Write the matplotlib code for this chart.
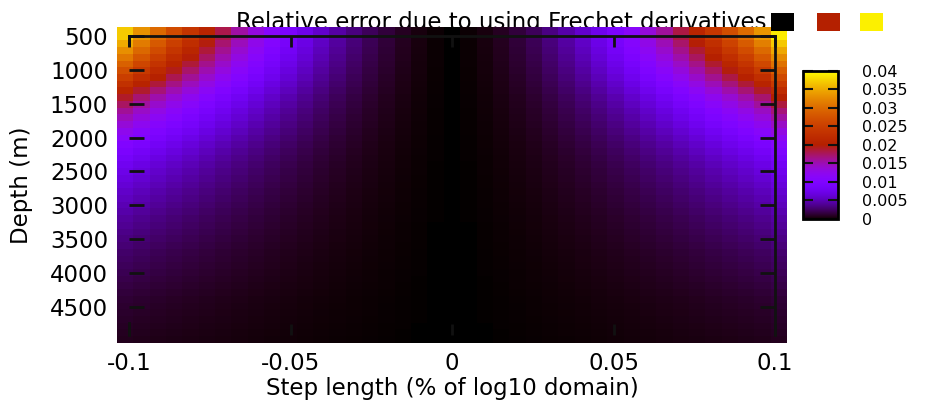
import numpy as np
import matplotlib
matplotlib.use("Agg")
import matplotlib.pyplot as plt
from matplotlib.patches import Rectangle
from matplotlib.ticker import FormatStrFormatter

# grid of the surface: step length (fraction of log10 domain) and depth (m)
step_length = np.linspace(-0.1, 0.1, 41)
depth = np.arange(400, 5001, 100)

# relative error read along the shallowest row, left to right
top_row_error = [0.037, 0.0332, 0.0298, 0.0266, 0.0237, 0.0208, 0.0181, 0.0156, 0.0133, 0.0112,
                 0.0093, 0.0075, 0.0059, 0.0045, 0.0033, 0.0023, 0.0015, 0.00083, 0.00037, 0.00009,
                 0.0,
                 0.00009, 0.00037, 0.00083, 0.0015, 0.0023, 0.0034, 0.0046, 0.006, 0.0076, 0.0094,
                 0.0114, 0.0135, 0.0158, 0.0183, 0.021, 0.024, 0.027, 0.030, 0.0335, 0.039]

# relative error at the largest step, shallow to deep
edge_error = [0.037, 0.037, 0.035, 0.033, 0.031, 0.029, 0.027, 0.025, 0.023, 0.021,
              0.019, 0.0175, 0.016, 0.0148, 0.0136, 0.0124, 0.0113, 0.0103, 0.0094, 0.0086,
              0.0079, 0.0073, 0.0068, 0.0063, 0.0058, 0.0054, 0.0050, 0.0046, 0.0042, 0.0039,
              0.0036, 0.0033, 0.0030, 0.0027, 0.0025, 0.0023, 0.0021, 0.0019, 0.0017, 0.0015,
              0.0013, 0.0012, 0.0011, 0.0010, 0.0009, 0.0008, 0.0007]

x_ticks = [-0.1, -0.05, 0, 0.05, 0.1]
y_ticks = [500, 1000, 1500, 2000, 2500, 3000, 3500, 4000, 4500]
cb_ticks = [0, 0.005, 0.01, 0.015, 0.02, 0.025, 0.03, 0.035, 0.04]

error = np.outer(np.array(edge_error) / edge_error[0], top_row_error)

# cell edges: the pm3d surface spills a little past the border
x_edges = np.linspace(step_length[0] - 0.00375, step_length[-1] + 0.00375, len(step_length) + 1)
y_edges = np.linspace(depth[0] - 28, depth[-1] + 26, len(depth) + 1)

plt.rcParams['font.family'] = 'DejaVu Sans'
plt.rcParams['font.size'] = 16.5
plt.rcParams['axes.unicode_minus'] = False

W, H = 931, 403
fig = plt.figure(figsize=(W / 100, H / 100), dpi=100)
ax = fig.add_axes([129 / W, 68 / H, 646 / W, 299.3 / H])

# gnuplot's default palette (rgbformulae 7,5,15), evaluated finely
cmap = plt.get_cmap('gnuplot').resampled(4096)
mesh = ax.pcolormesh(x_edges, y_edges, error, cmap=cmap, vmin=0, vmax=0.04,
                     clip_on=False, zorder=1)
ax.set_xlim(-0.1, 0.1)
ax.set_ylim(4910, 500)

for side in ['left', 'bottom']:
    ax.spines[side].set_visible(False)
for side in ['top', 'right']:
    ax.spines[side].set_linewidth(2)
    ax.spines[side].set_color('#111111')

# bits of the left border that show through the surface
ax.plot([-0.1, -0.1], [500, 640], color='#111111', lw=2, clip_on=False, zorder=3)
ax.plot([-0.1, -0.1], [4740, 4910], color='#111111', lw=2, clip_on=False, zorder=3)

ax.set_xticks(x_ticks)
ax.set_yticks(y_ticks)
ax.xaxis.set_major_formatter(FormatStrFormatter('%g'))
ax.tick_params(axis='x', direction='in', top=True, bottom=True, length=8, width=2,
               color='#111111', pad=12)
ax.tick_params(axis='y', direction='in', left=True, right=True, length=11, width=2,
               color='#111111', pad=15)

ax.set_xlabel('Step length (% of log10 domain)')
ax.xaxis.set_label_coords(0.5, (335 - 389) / 299.3)
ax.xaxis.label.set_va('center')
ax.set_ylabel('Depth (m)')
ax.yaxis.set_label_coords((21 - 129) / 646, 0.5)
ax.yaxis.label.set_va('center')

# key line, partly hidden behind the surface
ax.text(766 / W, (H - 29) / H, 'Relative error due to using Frechet derivatives',
        transform=fig.transFigure, ha='right', va='baseline', zorder=0)
for x0, c in zip([771, 817, 860], [cmap(0.0), cmap(0.5), cmap(0.98)]):
    fig.add_artist(Rectangle((x0 / W, (H - 31) / H), 23 / W, 18 / H,
                             transform=fig.transFigure, facecolor=c, edgecolor='none'))

cax = fig.add_axes([803 / W, (H - 219) / H, 35 / W, 148.3 / H])
cb = fig.colorbar(mesh, cax=cax, ticks=cb_ticks)
cb.ax.yaxis.set_major_formatter(FormatStrFormatter('%g'))
cb.ax.tick_params(direction='in', left=True, right=True, length=7, width=1.5,
                  color='#111111', pad=17, labelsize=11.5)
cb.outline.set_linewidth(2)

fig.savefig('out.png', dpi=100)
